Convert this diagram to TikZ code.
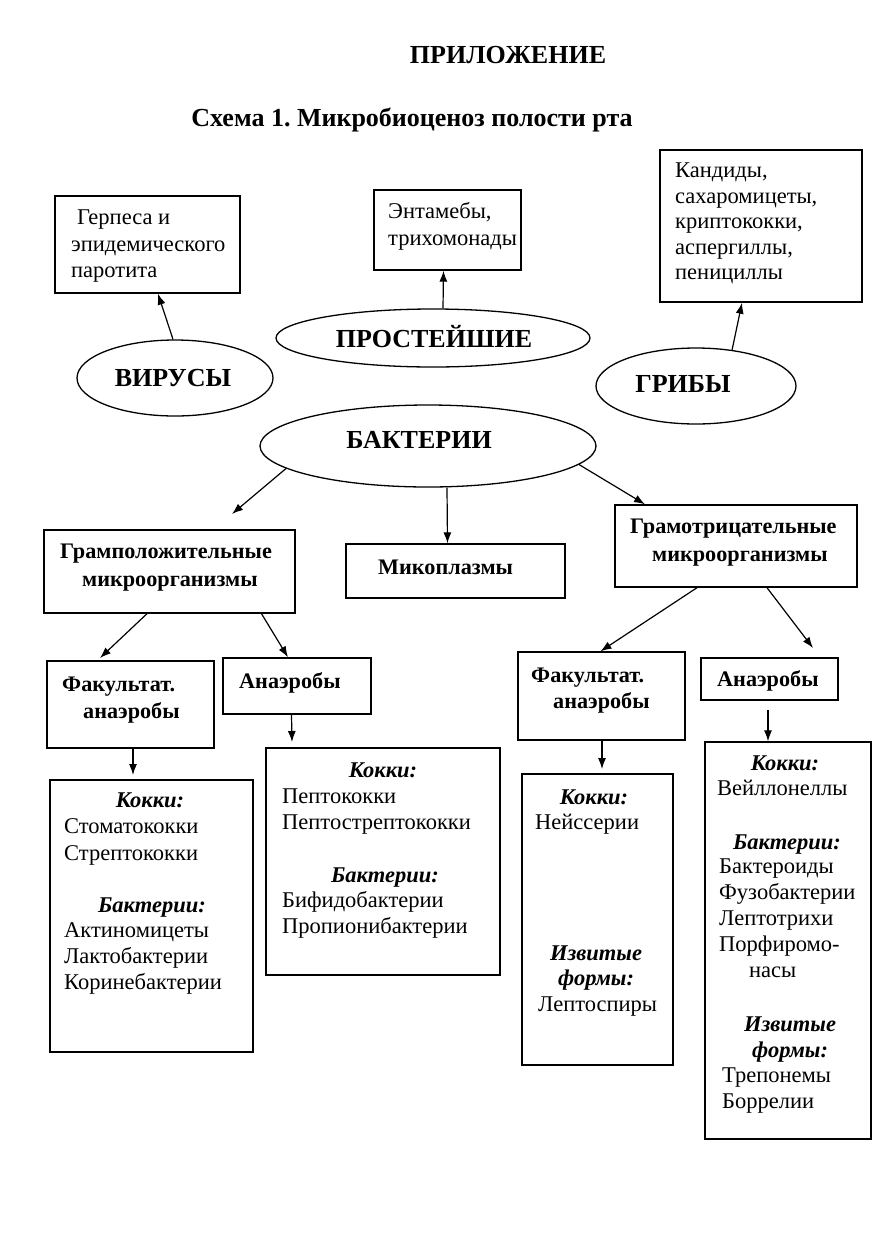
\documentclass[tikz,border=0pt]{standalone}
\usepackage{fontspec}
\setmainfont{Liberation Serif}
\usetikzlibrary{arrows.meta,shapes.geometric,fit}
\frenchspacing
\begin{document}
\begin{tikzpicture}[x=1pt,y=-1pt,
  box/.style={draw, line width=1.4pt, inner sep=0pt},
  oval/.style={draw, ellipse, line width=1.3pt, inner sep=0pt},
  otxt/.style={inner sep=0pt, font=\fontsize{26}{30}\selectfont\bfseries},
  txt/.style={anchor=west, inner sep=0pt, text height=15pt, text depth=4.5pt, font=\fontsize{22.5}{26}\selectfont},
  btxt/.style={anchor=west, inner sep=0pt, text height=15pt, text depth=4.5pt, font=\fontsize{22.2}{26}\selectfont\bfseries},
  hd/.style={anchor=center, inner sep=0pt, text height=15pt, text depth=4.5pt, font=\fontsize{22.5}{26}\selectfont\bfseries\itshape},
  arr/.style={-{Latex[length=11pt,width=8pt]}, line width=1.2pt}]
\useasboundingbox (0,0) rectangle (892,1251);
\fill[white] (0,0) rectangle (892,1251);

% titles
\node[inner sep=0pt, font=\fontsize{26}{30}\selectfont\bfseries] (title) at (508,55) {ПРИЛОЖЕНИЕ};
\node[inner sep=0pt, font=\fontsize{26}{30}\selectfont\bfseries] (sub) at (412,120) {Схема 1. Микробиоценоз полости рта};

% top boxes
\node[box, fit={(55,196) (240,293)}] (gerp) {};
\node[txt] (g1) at (77,219) {Герпеса и};
\node[txt] (g2) at (71,246) {эпидемического};
\node[txt] (g3) at (71,272) {паротита};

\node[box, fit={(374,190) (521,270)}] (ent) {};
\node[txt] (e1) at (388,213) {Энтамебы,};
\node[txt] (e2) at (388,240) {трихомонады};

\node[box, fit={(660,150) (862,302)}] (kand) {};
\node[txt] (k1) at (675,172) {Кандиды,};
\node[txt] (k2) at (675,198) {сахаромицеты,};
\node[txt] (k3) at (675,223) {криптококки,};
\node[txt] (k4) at (675,249) {аспергиллы,};
\node[txt] (k5) at (675,274) {пенициллы};

% ovals
\node[oval, minimum width=196pt, minimum height=76pt] (vir) at (175,378) {};
\node[otxt] (virt) at (173,378) {ВИРУСЫ};
\node[oval, minimum width=314pt, minimum height=58pt] (prost) at (433,338) {};
\node[otxt] (prostt) at (434,337) {ПРОСТЕЙШИЕ};
\node[oval, minimum width=200pt, minimum height=76pt] (grib) at (696,386) {};
\node[otxt] (gribt) at (683,384) {ГРИБЫ};
\node[oval, minimum width=336pt, minimum height=82pt] (bakt) at (428,446) {};
\node[otxt] (baktt) at (419,440) {БАКТЕРИИ};

\draw[arr] (vir.93) -- ([xshift=10.5pt]gerp.south);
\draw[arr] ([xshift=10pt]prost.north) -- ([xshift=-4pt]ent.south);
\draw[arr] (grib.45) -- ([xshift=-19pt]kand.south);

% second level
\node[box, fit={(44,530) (295,613)}] (gramp) {};
\node[btxt] (gp1) at (60,553) {Грамположительные};
\node[btxt] (gp2) at (82,581) {микроорганизмы};

\node[box, fit={(346,544) (565,598)}] (mikop) {};
\node[btxt] (m1) at (378,569) {Микоплазмы};

\node[box, fit={(615,505) (857,587)}] (gramo) {};
\node[btxt] (go1) at (630,528) {Грамотрицательные};
\node[btxt] (go2) at (652,556) {микроорганизмы};

\coordinate (gpin) at (232,514);
\draw[arr] (bakt.189) -- (gpin);
\draw[arr] ([xshift=19pt]bakt.south) -- ([xshift=-8pt]mikop.north);
\draw[arr] (bakt.-7) -- ([xshift=-91pt]gramo.north);

% third level
\node[box, fit={(47,661) (214,748)}] (fakL) {};
\node[btxt] (fl1) at (62,686) {Факультат.};
\node[btxt] (fl2) at (83,713) {анаэробы};

\node[box, fit={(223,658) (371,714)}] (anaL) {};
\node[btxt] (al1) at (239,683) {Анаэробы};

\node[box, fit={(518,652) (685,740)}] (fakR) {};
\node[btxt] (fr1) at (531,677) {Факультат.};
\node[btxt] (fr2) at (553,703) {анаэробы};

\node[box, fit={(701,658) (838,700)}] (anaR) {};
\node[btxt] (ar1) at (717,681) {Анаэробы};

\coordinate (flin) at (100,658);
\coordinate (arin) at (813,648);
\draw[arr] ([xshift=-22.5pt]gramp.south) -- (flin);
\draw[arr] ([xshift=92pt]gramp.south) -- ([xshift=-9pt]anaL.north);
\draw[arr] ([xshift=-39pt]gramo.south) -- ([xshift=-1pt]fakR.north);
\draw[arr] ([xshift=31pt]gramo.south) -- (arin);

% bottom boxes
\node[box, fit={(50,780) (253,1052)}] (kokL) {};
\node[hd] (kl1) at (150,802) {Кокки:};
\node[txt] (kl2) at (64,828) {Стоматококки};
\node[txt] (kl3) at (64,855) {Стрептококки};
\node[hd] (kl4) at (152,907) {Бактерии:};
\node[txt] (kl5) at (64,932) {Актиномицеты};
\node[txt] (kl6) at (64,958) {Лактобактерии};
\node[txt] (kl7) at (64,984) {Коринебактерии};

\node[box, fit={(266,748) (500,975)}] (kokM) {};
\node[hd] (km1) at (383,772) {Кокки:};
\node[txt] (km2) at (282,798) {Пептококки};
\node[txt] (km3) at (282,824) {Пептострептококки};
\node[hd] (km4) at (385,877) {Бактерии:};
\node[txt] (km5) at (282,902) {Бифидобактерии};
\node[txt] (km6) at (282,928) {Пропионибактерии};

\node[box, fit={(522,774) (673,1065)}] (kokRm) {};
\node[hd] (kr1) at (594,799) {Кокки:};
\node[txt] (kr2) at (535,824) {Нейссерии};
\node[hd] (kr3) at (596,955) {Извитые};
\node[hd] (kr4) at (596,980) {формы:};
\node[txt] (kr5) at (538,1006) {Лептоспиры};

\node[box, fit={(705,742) (871,1139)}] (kokR) {};
\node[hd] (kk1) at (785,765) {Кокки:};
\node[txt] (kk2) at (717,790) {Вейллонеллы};
\node[hd] (kk3) at (787,844) {Бактерии:};
\node[txt] (kk4) at (719,868) {Бактероиды};
\node[txt] (kk5) at (719,894) {Фузобактерии};
\node[txt] (kk6) at (719,920) {Лептотрихи};
\node[txt] (kk7) at (719,946) {Порфиромо-};
\node[txt] (kk8) at (749,972) {насы};
\node[hd] (kk9) at (790,1026) {Извитые};
\node[hd] (kk10) at (790,1052) {формы:};
\node[txt] (kk11) at (722,1077) {Трепонемы};
\node[txt] (kk12) at (722,1103) {Боррелии};

\coordinate (klin) at (133,775);
\coordinate (kmin) at (292,742);
\coordinate (krmin) at (602,769);
\coordinate (krout) at (768,710);
\draw[arr] ([xshift=2.5pt]fakL.south) -- (klin);
\draw[arr] ([xshift=-5.5pt]anaL.south) -- (kmin);
\draw[arr] ([xshift=0.5pt]fakR.south) -- (krmin);
\draw[arr] (krout) -- ([xshift=-20pt]kokR.north);
\end{tikzpicture}
\end{document}
